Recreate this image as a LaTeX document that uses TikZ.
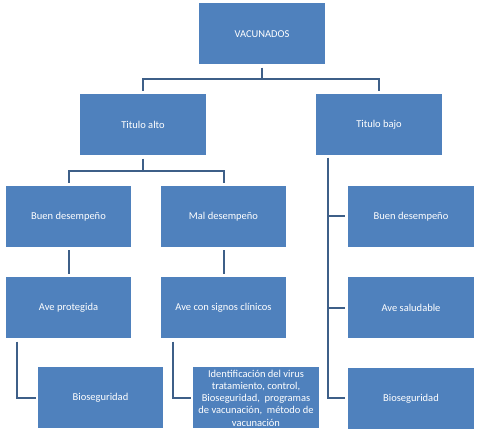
\documentclass[tikz,border=0pt]{standalone}
\usepackage{fontspec}
\setmainfont{Carlito}
\usepackage{xcolor}
\usetikzlibrary{positioning}
\definecolor{boxblue}{HTML}{4F81BD}
\definecolor{linkblue}{HTML}{3E5F88}
\tikzstyle{box}=[fill=boxblue, text=white, minimum width=126pt, minimum height=61pt, inner sep=1pt]
\tikzstyle{link}=[draw=linkblue, line width=2pt]

\begin{document}
\begin{tikzpicture}[x=1pt, y=-1pt, node distance = 30pt, every text node part/.style={align=center, font=\fontsize{10.5}{12.3}\selectfont}]
    \useasboundingbox (0,0) rectangle (480,438);

    \node[box] (vacunados) at (262,34)    {VACUNADOS};
    \node[box] (alto)      at (143,125)   {Titulo alto};
    \node[box] (bajo)      at (379,125)   {Titulo bajo};

    \node[box, minimum width=125pt] (buenA) at (68.5,216.5)  {Buen desempeño};
    \node[box, minimum width=125pt] (mal)   at (223.5,216.5) {Mal desempeño};
    \node[box] (buenB)     at (411,216.5) {Buen desempeño};

    \node[box, minimum width=125pt] (protegida) [below = of buenA] {Ave protegida};
    \node[box, minimum width=125pt] (clinicos)  [below = of mal]   {Ave con signos clínicos};
    \node[box] (saludable) [below = of buenB] {Ave saludable};

    \node[box, minimum width=125pt] (bioA) at (100.5,398) {Bioseguridad};
    \node[box] (ident) at (256,398) {Identificación del virus\\tratamiento, control,\\Bioseguridad,\ \ programas\\de vacunación,\ \ método de\\vacunación};
    \node[box] (bioB) [below = 29pt of saludable] {Bioseguridad};

    \coordinate (topjoin)  at (262,79);
    \coordinate (altojoin) at (143,171);
    \coordinate (trunk)    at ([xshift=12pt]bajo.south west);

    \draw[link] ([yshift=-3pt]vacunados.south) -- (topjoin);
    \draw[link] (topjoin) -| ([yshift=3pt]alto.north);
    \draw[link] (topjoin) -| ([yshift=3pt]bajo.north);

    \draw[link] ([yshift=-3pt]alto.south) -- (altojoin);
    \draw[link] (altojoin) -| ([yshift=3pt]buenA.north);
    \draw[link] (altojoin) -| ([yshift=3pt]mal.north);
    \draw[link] ([yshift=-3pt]buenA.south) -- ([yshift=3pt]protegida.north);
    \draw[link] ([yshift=-3pt]mal.south) -- ([yshift=3pt]clinicos.north);
    \draw[link] ([xshift=11pt, yshift=-3pt]protegida.south west) |- ([xshift=-2pt]bioA.west);
    \draw[link] ([xshift=12pt, yshift=-3pt]clinicos.south west) |- ([xshift=-2pt]ident.west);

    \draw[link] ([yshift=-2pt]trunk) |- ([xshift=-3pt]bioB.west);
    \draw[link] (trunk |- buenB.west) -- ([xshift=-3pt]buenB.west);
    \draw[link] (trunk |- saludable.west) -- ([xshift=-3pt]saludable.west);
  \end{tikzpicture}
\end{document}
